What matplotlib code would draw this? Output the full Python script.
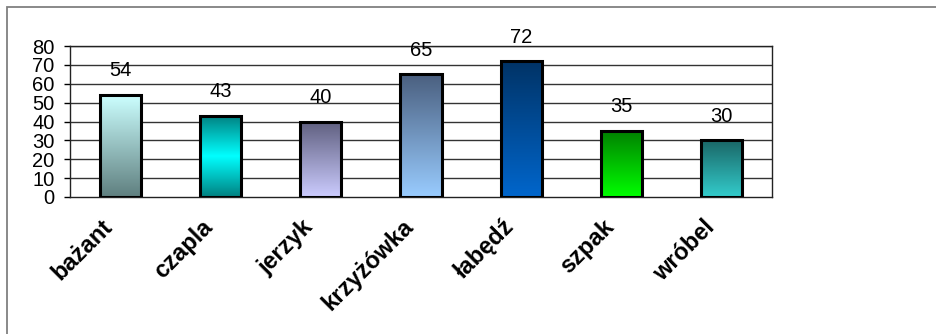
import numpy as np
import matplotlib
matplotlib.use("Agg")
import matplotlib.pyplot as plt
from matplotlib.colors import LinearSegmentedColormap
from matplotlib.patches import Rectangle

# Bird counts per species
categories = ["bażant", "czapla", "jerzyk", "krzyżówka", "łabędź", "szpak", "wróbel"]
values = [54, 43, 40, 65, 72, 35, 30]
y_ticks = [0, 10, 20, 30, 40, 50, 60, 70, 80]

# Vertical gradient stops for each bar (top -> bottom)
gradients = [
    ["#CCFFFF", "#5F7F7F"],
    ["#008080", "#00FFFF", "#008080"],
    ["#5F5F7F", "#CCCCFF"],
    ["#4A5F7F", "#99CCFF"],
    ["#003366", "#0066CC"],
    ["#008000", "#00FF00"],
    ["#1A6666", "#33CCCC"],
]

plt.rcParams["font.family"] = ["Liberation Sans", "DejaVu Sans"]

W, H = 937, 334
fig = plt.figure(figsize=(W / 100, H / 100), dpi=100)

# Outer chart frame
fig.patches.append(Rectangle((7 / W, -0.1), 1.2, 1 - 7 / H + 0.1, transform=fig.transFigure,
                             fill=False, edgecolor="#808080", linewidth=1.3))

ax = fig.add_axes([70 / W, 1 - 197 / H, (772 - 70) / W, (197 - 46) / H])
n = len(categories)
ax.set_xlim(-0.5, n - 0.5)
ax.set_ylim(0, 80)
ax.set_yticks(y_ticks)
ax.set_xticks([])
ax.tick_params(axis="y", length=4, width=1, pad=7, labelsize=14.5, colors="black")
for s in ax.spines.values():
    s.set_color("#222222")
    s.set_linewidth(1.0)

for t in y_ticks[1:]:
    ax.axhline(t, color="#333333", linewidth=1.0, zorder=1)

bar_w = 0.41
for i, (v, stops) in enumerate(zip(values, gradients)):
    cmap = LinearSegmentedColormap.from_list(f"g{i}", stops)
    grad = np.linspace(0, 1, 256).reshape(-1, 1)
    ax.imshow(grad, cmap=cmap, aspect="auto", origin="upper",
              extent=[i - bar_w / 2, i + bar_w / 2, 0, v], zorder=2,
              interpolation="bilinear")
    ax.bar(i, v, width=bar_w, facecolor="none", edgecolor="black",
           linewidth=2.2, zorder=3)
    ax.annotate(str(v), xy=(i, v), xytext=(0, 10.5), textcoords="offset points",
                ha="center", va="bottom", fontsize=14.5, color="black")
    ax.annotate(categories[i], xy=(i, 0), xytext=(-8, -19), textcoords="offset points",
                ha="right", va="center", rotation=45, rotation_mode="anchor",
                fontsize=17, fontweight="bold", color="black")

ax.set_xlim(-0.5, n - 0.5)
ax.set_ylim(0, 80)

fig.savefig("out.png", dpi=100)
